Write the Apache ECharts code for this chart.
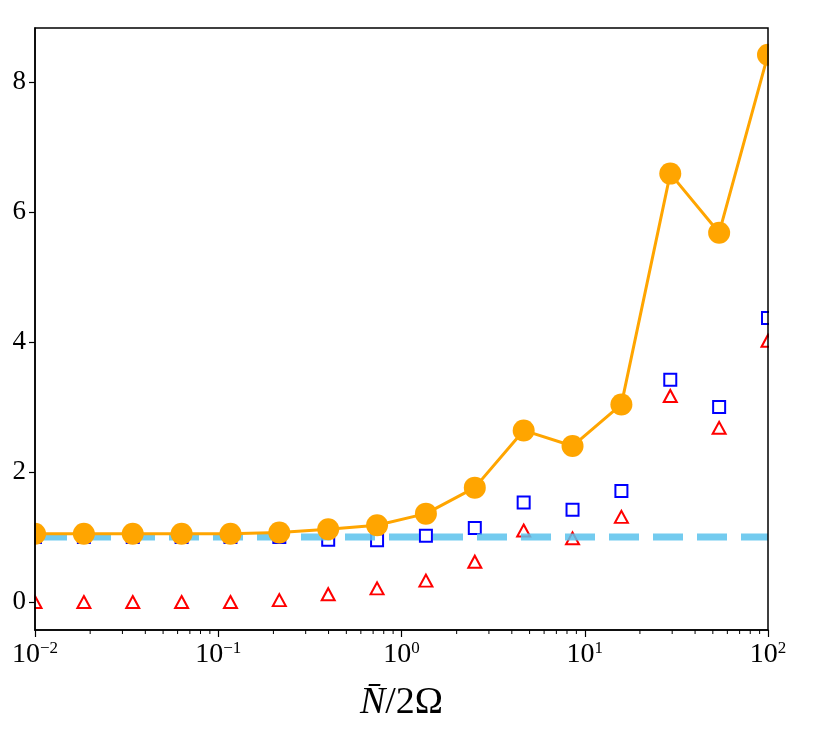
<!DOCTYPE html>
<html>
<head>
<meta charset="utf-8">
<script src="https://cdn.jsdelivr.net/npm/echarts@6/dist/echarts.min.js"></script>
<style>
  html, body { margin: 0; padding: 0; background: #fff; }
  #chart { width: 813px; height: 750px; }
</style>
</head>
<body>
<div id="chart"></div>
<script>
// x positions (N/2Ω), log spaced
const xVals = [0.01, 0.01848, 0.03415, 0.0631, 0.1166, 0.2154, 0.3981, 0.7356,
  1.359, 2.512, 4.642, 8.577, 15.85, 29.29, 54.12, 100];
const orangeVals = [1.05, 1.05, 1.05, 1.05, 1.05, 1.07, 1.12, 1.18,
  1.36, 1.76, 2.64, 2.40, 3.04, 6.59, 5.68, 8.42];
const squareVals = [1.0, 1.0, 1.0, 1.0, 1.0, 1.0, 0.96, 0.95,
  1.02, 1.14, 1.53, 1.42, 1.71, 3.42, 3.00, 4.37];
const triangleVals = [0.0, 0.0, 0.0, 0.0, 0.0, 0.03, 0.12, 0.21,
  0.33, 0.62, 1.10, 0.98, 1.31, 3.17, 2.68, 4.02];
const refLevel = 1.0;
const yTicks = [0, 2, 4, 6, 8];
const minorTicks = [0.02, 0.03, 0.04, 0.05, 0.06, 0.07, 0.08, 0.09,
  0.2, 0.3, 0.4, 0.5, 0.6, 0.7, 0.8, 0.9,
  2, 3, 4, 5, 6, 7, 8, 9,
  20, 30, 40, 50, 60, 70, 80, 90];

const Y_MIN = -0.43, Y_MAX = 8.83;
const font = "'Liberation Serif', 'DejaVu Serif', serif";

const pair = (ys) => xVals.map((x, i) => [x, ys[i]]);

const chart = echarts.init(document.getElementById("chart"));

// plot box, markers get clipped at its edges like matplotlib does
const G = { left: 35, right: 45, top: 28, bottom: 120 };
const W = 813, H = 750;
const mask = (x, y, w, h) => ({
  type: "rect", z: 6, silent: true,
  shape: { x, y, width: w, height: h },
  style: { fill: "#fff" },
});

chart.setOption({
  animation: false,
  graphic: [
    mask(0, 0, G.left - 1, H),
    mask(W - G.right + 1, 0, G.right, H),
    mask(0, 0, W, G.top - 1),
    mask(0, H - G.bottom + 1, W, G.bottom),
  ],
  grid: {
    left: G.left, right: G.right, top: G.top, bottom: G.bottom,
    show: true, borderColor: "#000", borderWidth: 1.5, z: 10,
  },
  xAxis: {
    type: "log",
    logBase: 10,
    min: 0.01,
    max: 100,
    z: 10,
    name: "{n|N\u0304}{r|/2\u03a9}",
    nameLocation: "middle",
    nameGap: 54,
    nameTextStyle: {
      rich: {
        n: { fontFamily: font, fontStyle: "italic", fontSize: 38, color: "#000" },
        r: { fontFamily: font, fontSize: 38, color: "#000" },
      },
    },
    axisLine: { show: true, onZero: false, lineStyle: { color: "#000", width: 1.5 } },
    axisTick: { show: true, inside: false, length: 7, lineStyle: { color: "#000", width: 1.2 } },
    splitLine: { show: false },
    axisLabel: {
      margin: 10,
      formatter: (v) => {
        const e = Math.round(Math.log10(v));
        return "{b|10}{s|" + (e < 0 ? "\u2212" + -e : e) + "}";
      },
      rich: {
        b: { fontFamily: font, fontSize: 28, color: "#000" },
        s: { fontFamily: font, fontSize: 17, color: "#000", padding: [0, 0, 13, 0] },
      },
    },
  },
  yAxis: {
    type: "value",
    min: Y_MIN,
    max: Y_MAX,
    z: 10,
    axisLine: { show: true, onZero: false, lineStyle: { color: "#000", width: 1.5 } },
    axisTick: { show: true, length: 6, customValues: yTicks, lineStyle: { color: "#000", width: 1.2 } },
    splitLine: { show: false },
    axisLabel: {
      customValues: yTicks,
      margin: 9,
      fontFamily: font,
      fontSize: 27,
      color: "#000",
    },
  },
  series: [
    {
      // minor log ticks under the x axis
      type: "custom",
      silent: true,
      clip: false,
      data: minorTicks.map((v) => [v, Y_MIN]),
      encode: { x: 0, y: 1 },
      renderItem: (params, api) => {
        const p = api.coord([api.value(0), Y_MIN]);
        return {
          type: "line",
          shape: { x1: p[0], y1: p[1], x2: p[0], y2: p[1] + 4 },
          style: { stroke: "#000", lineWidth: 1 },
        };
      },
      z: 11,
    },
    {
      name: "triangles",
      type: "scatter",
      data: pair(triangleVals),
      symbol: "triangle",
      symbolSize: [13, 12],
      itemStyle: { color: "rgba(0,0,0,0)", borderColor: "#ff0000", borderWidth: 2, opacity: 1 },
      z: 2,
    },
    {
      name: "squares",
      type: "scatter",
      data: pair(squareVals),
      symbol: "rect",
      symbolSize: 12,
      itemStyle: { color: "rgba(0,0,0,0)", borderColor: "#0000ff", borderWidth: 2, opacity: 1 },
      z: 3,
    },
    {
      name: "reference",
      type: "line",
      data: [[xVals[0], refLevel], [xVals[xVals.length - 1], refLevel]],
      showSymbol: false,
      lineStyle: { color: "#5bc2ec", width: 7, type: [30, 14], dashOffset: -2, opacity: 0.85 },
      z: 4,
    },
    {
      name: "circles",
      type: "line",
      data: pair(orangeVals),
      symbol: "circle",
      symbolSize: 22,
      lineStyle: { color: "#ffa500", width: 3 },
      itemStyle: { color: "#ffa500", opacity: 1 },
      z: 5,
    },
  ],
});
</script>
</body>
</html>
